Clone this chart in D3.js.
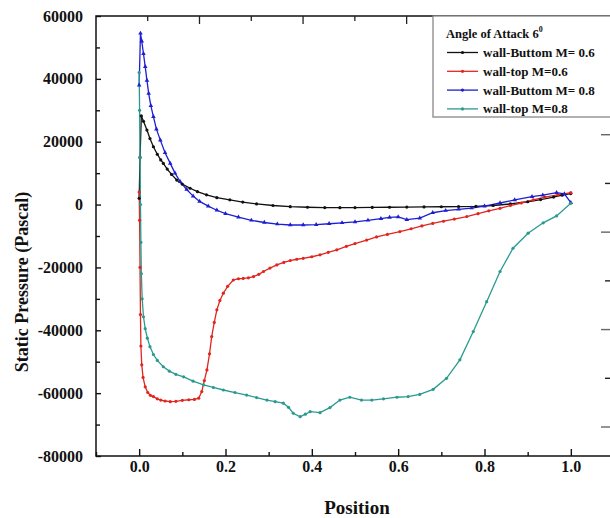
<!DOCTYPE html>
<html>
<head>
<meta charset="utf-8">
<script src="https://cdn.jsdelivr.net/npm/d3@7"></script>
<style>
    body { margin: 0; background: #fff; }
    text { font-family: "Liberation Serif", "Times New Roman", serif; font-weight: bold; }
</style>
</head>
<body>
<div id="chart"></div>
<script>

// series values, [position, pressure]
let wallBottom06 = [
    [0, 2000], [0.002, 15000], [0.005, 28200], [0.01, 26500], [0.018, 23700], [0.025, 21000],
    [0.033, 18400], [0.042, 16000], [0.05, 14200], [0.056, 13100], [0.065, 11300], [0.075, 9600],
    [0.087, 7800], [0.1, 6500], [0.118, 5200], [0.135, 4100], [0.156, 3100], [0.18, 2200],
    [0.21, 1500], [0.24, 800], [0.272, 200], [0.31, -300], [0.35, -670], [0.39, -850],
    [0.43, -950], [0.465, -1000], [0.5, -950], [0.54, -900], [0.58, -850], [0.62, -800],
    [0.66, -750], [0.7, -700], [0.74, -650], [0.78, -550], [0.82, -300], [0.86, 200],
    [0.9, 900], [0.93, 1600], [0.96, 2400], [0.98, 3000], [1.0, 3500]
];

let wallTop06 = [
    [0, 4000], [0.001, -5000], [0.002, -20000], [0.003, -35000], [0.004, -45000], [0.006, -51000],
    [0.009, -55000], [0.014, -58000], [0.02, -59800], [0.026, -60700], [0.033, -61100], [0.042, -61800],
    [0.05, -62200], [0.06, -62500], [0.072, -62700], [0.085, -62600], [0.1, -62300], [0.115, -62100],
    [0.128, -62000], [0.138, -61600], [0.145, -59500], [0.151, -56000], [0.157, -52600], [0.163, -47500],
    [0.168, -42000], [0.174, -37500], [0.18, -33500], [0.187, -30500], [0.195, -28200], [0.205, -26000],
    [0.218, -24000], [0.23, -23600], [0.241, -23500], [0.253, -23300], [0.265, -22900], [0.277, -22200],
    [0.288, -21300], [0.303, -20200], [0.319, -19200], [0.335, -18400], [0.35, -17800], [0.365, -17400],
    [0.38, -17100], [0.4, -16600], [0.419, -16000], [0.438, -15200], [0.458, -14400], [0.48, -13300],
    [0.5, -12400], [0.527, -11300], [0.55, -10300], [0.575, -9500], [0.604, -8600], [0.63, -7700],
    [0.655, -6800], [0.68, -6000], [0.705, -5300], [0.73, -4600], [0.759, -3800], [0.785, -2900],
    [0.81, -2000], [0.836, -1200], [0.86, -300], [0.885, 500], [0.913, 1500], [0.94, 2400],
    [0.97, 3100], [1.0, 3800]
];

let wallBottom08 = [
    [0, 38000], [0.003, 54500], [0.006, 52000], [0.01, 48000], [0.014, 43900], [0.018, 39500],
    [0.022, 35400], [0.027, 31500], [0.033, 28000], [0.04, 24000], [0.049, 20500], [0.06, 16500],
    [0.072, 13100], [0.083, 10000], [0.095, 7300], [0.11, 4800], [0.125, 2700], [0.14, 1000],
    [0.16, -500], [0.18, -1800], [0.2, -2900], [0.23, -4000], [0.26, -5000], [0.29, -5700],
    [0.32, -6200], [0.35, -6500], [0.38, -6500], [0.41, -6400], [0.44, -6100], [0.47, -5800],
    [0.5, -5500], [0.53, -5000], [0.56, -4500], [0.58, -4100], [0.6, -3900], [0.62, -4800],
    [0.65, -4300], [0.68, -2600], [0.71, -1900], [0.74, -1500], [0.77, -1100], [0.8, -500],
    [0.836, 500], [0.87, 1500], [0.91, 2500], [0.935, 3000], [0.967, 3800], [0.985, 3400],
    [1.0, 600]
];

let wallTop08 = [
    [0, 42000], [0.001, 30000], [0.002, 15000], [0.003, 0], [0.004, -12000], [0.005, -22000],
    [0.007, -30000], [0.01, -35700], [0.014, -39500], [0.019, -42500], [0.025, -45200], [0.033, -47700],
    [0.042, -49600], [0.056, -51600], [0.07, -53000], [0.085, -54000], [0.103, -54800], [0.125, -56200],
    [0.149, -57400], [0.172, -58200], [0.195, -59000], [0.222, -59800], [0.249, -60600], [0.272, -61400],
    [0.296, -62200], [0.315, -62700], [0.334, -63200], [0.346, -64500], [0.357, -66400], [0.373, -67500],
    [0.385, -66700], [0.396, -65900], [0.419, -66200], [0.442, -64600], [0.465, -62200], [0.488, -61300],
    [0.515, -62200], [0.539, -62200], [0.566, -61800], [0.597, -61300], [0.623, -61100], [0.65, -60400],
    [0.681, -58800], [0.712, -55300], [0.743, -49400], [0.774, -40400], [0.805, -30900], [0.836, -21300],
    [0.866, -13900], [0.901, -9100], [0.936, -5800], [0.967, -3600], [1.0, 400]
];

// legend / series names
let seriesNames = ["wall-Buttom M= 0.6", "wall-top M=0.6", "wall-Buttom M= 0.8", "wall-top M=0.8"];
let legendTitle = "Angle of Attack 6";

// ticks
let xTicks = [0, 0.2, 0.4, 0.6, 0.8, 1.0];
let xMinorTicks = [-0.1, 0.1, 0.3, 0.5, 0.7, 0.9, 1.1];
let yTicks = [-80000, -60000, -40000, -20000, 0, 20000, 40000, 60000];
let yMinorTicks = [-70000, -50000, -30000, -10000, 10000, 30000, 50000];


class PressureVis {

    constructor(parentElement) {
        this.parentElement = parentElement;
        this.series = [
            {name: seriesNames[0], values: wallBottom06, color: "#111111", shape: "circle"},
            {name: seriesNames[1], values: wallTop06, color: "#e0261f", shape: "circle"},
            {name: seriesNames[2], values: wallBottom08, color: "#1e1ed2", shape: "triangle"},
            {name: seriesNames[3], values: wallTop08, color: "#2a9a90", shape: "circle"}
        ];
        this.initVis();
    }

    initVis() {
        let vis = this;

        vis.margin = {top: 16, right: -4, bottom: 62, left: 96};
        vis.width = 610 - vis.margin.left - vis.margin.right;
        vis.height = 518 - vis.margin.top - vis.margin.bottom;

        vis.svg = d3.select("#" + vis.parentElement).append("svg")
            .attr("width", 610)
            .attr("height", 518)
            .append("g")
            .attr("transform", `translate(${vis.margin.left}, ${vis.margin.top})`);

        // Scales
        vis.x = d3.scaleLinear()
            .domain([-0.1, 1.1])
            .range([0, vis.width]);

        vis.y = d3.scaleLinear()
            .domain([-80000, 60000])
            .range([vis.height, 0]);

        vis.xAxis = d3.axisBottom(vis.x)
            .tickValues(xTicks)
            .tickFormat(d => d.toFixed(1))
            .tickSize(-7)
            .tickPadding(5);

        vis.xMinor = d3.axisBottom(vis.x)
            .tickValues(xMinorTicks)
            .tickFormat("")
            .tickSize(-4);

        // plain hyphen for negatives, like the original
        vis.yAxis = d3.axisLeft(vis.y)
            .tickValues(yTicks)
            .tickFormat(d => String(d))
            .tickSize(-5)
            .tickPadding(13);

        vis.yMinor = d3.axisLeft(vis.y)
            .tickValues(yMinorTicks)
            .tickFormat("")
            .tickSize(-4);

        vis.updateVis();
    }

    updateVis() {
        let vis = this;

        let line = d3.line()
            .x(d => vis.x(d[0]))
            .y(d => vis.y(d[1]));

        // lines
        vis.svg.selectAll(".series-line")
            .data(vis.series)
            .enter()
            .append("path")
            .attr("class", "series-line")
            .attr("fill", "none")
            .attr("stroke", d => d.color)
            .attr("stroke-width", 1.3)
            .attr("d", d => line(d.values));

        // markers
        let tri = d3.symbol().type(d3.symbolTriangle).size(9);
        vis.series.forEach(s => {
            let g = vis.svg.append("g").attr("fill", s.color);
            if (s.shape === "triangle") {
                g.selectAll("path")
                    .data(s.values)
                    .enter()
                    .append("path")
                    .attr("d", tri)
                    .attr("transform", d => `translate(${vis.x(d[0])},${vis.y(d[1])})`);
            } else {
                g.selectAll("circle")
                    .data(s.values)
                    .enter()
                    .append("circle")
                    .attr("cx", d => vis.x(d[0]))
                    .attr("cy", d => vis.y(d[1]))
                    .attr("r", 1.6);
            }
        });

        // frame
        vis.svg.append("rect")
            .attr("width", vis.width)
            .attr("height", vis.height)
            .attr("fill", "none")
            .attr("stroke", "#111")
            .attr("stroke-width", 1.5);

        // axes
        let xg = vis.svg.append("g")
            .attr("class", "x-axis axis")
            .attr("transform", `translate(0,${vis.height})`)
            .call(vis.xAxis);
        vis.svg.append("g")
            .attr("transform", `translate(0,${vis.height})`)
            .call(vis.xMinor);
        let yg = vis.svg.append("g")
            .attr("class", "y-axis axis")
            .call(vis.yAxis);
        vis.svg.append("g").call(vis.yMinor);

        vis.svg.selectAll("g .domain").remove();
        vis.svg.selectAll(".tick line").attr("stroke", "#111").attr("stroke-width", 1.4);
        xg.selectAll("text").attr("font-size", 16).attr("fill", "#111");
        yg.selectAll("text").attr("font-size", 16).attr("fill", "#111");

        // faint ticks left over along the top and right edges
        let topTicks = d3.scaleLinear().domain([0, 8]).range([51.7, 466]);
        vis.svg.append("g")
            .selectAll("line")
            .data(d3.range(0, 9))
            .enter()
            .append("line")
            .attr("x1", d => topTicks(d))
            .attr("x2", d => topTicks(d))
            .attr("y1", 0)
            .attr("y2", d => d % 2 ? 8 : 5)
            .attr("stroke", "#222")
            .attr("stroke-width", 1.3);

        let rightTicks = d3.scaleLinear().domain([0, 7]).range([70, 411]);
        vis.svg.append("g")
            .selectAll("line")
            .data(d3.range(0, 8))
            .enter()
            .append("line")
            .attr("x1", d => d % 2 ? 505 : 509)
            .attr("x2", 514)
            .attr("y1", d => rightTicks(d))
            .attr("y2", d => rightTicks(d))
            .attr("stroke", d => d % 2 ? "#666" : "#222")
            .attr("stroke-width", 1.4);

        // axis titles
        vis.svg.append("text")
            .attr("x", 261)
            .attr("y", 498)
            .attr("text-anchor", "middle")
            .attr("font-size", 19)
            .attr("fill", "#111")
            .text("Position");

        vis.svg.append("text")
            .attr("transform", `translate(${-68},${266}) rotate(-90)`)
            .attr("text-anchor", "middle")
            .attr("font-size", 18)
            .attr("fill", "#111")
            .text("Static Pressure (Pascal)");

        // legend
        let legend = vis.svg.append("g")
            .attr("transform", `translate(${337},0)`);

        legend.append("rect")
            .attr("width", 200)
            .attr("height", 101)
            .attr("fill", "#fff")
            .attr("stroke", "#888")
            .attr("stroke-width", 1.3);

        legend.append("text")
            .attr("x", 13)
            .attr("y", 22)
            .attr("font-size", 12.5)
            .attr("fill", "#111")
            .text(legendTitle)
            .append("tspan")
            .attr("dy", -6)
            .attr("font-size", 8)
            .text("0");

        let rows = legend.selectAll(".legend-row")
            .data(vis.series)
            .enter()
            .append("g")
            .attr("class", "legend-row")
            .attr("transform", (d, i) => `translate(0,${36.5 + i * 18.8})`);

        rows.append("line")
            .attr("x1", 14)
            .attr("x2", 45)
            .attr("stroke", d => d.color)
            .attr("stroke-width", 1.3);

        rows.append("circle")
            .attr("cx", 29.5)
            .attr("r", 1.6)
            .attr("fill", d => d.color);

        rows.append("text")
            .attr("x", 50)
            .attr("dy", "0.35em")
            .attr("font-size", 13)
            .attr("fill", "#111")
            .text(d => d.name);
    }
}

let myPressureVis = new PressureVis("chart");
</script>
</body>
</html>
